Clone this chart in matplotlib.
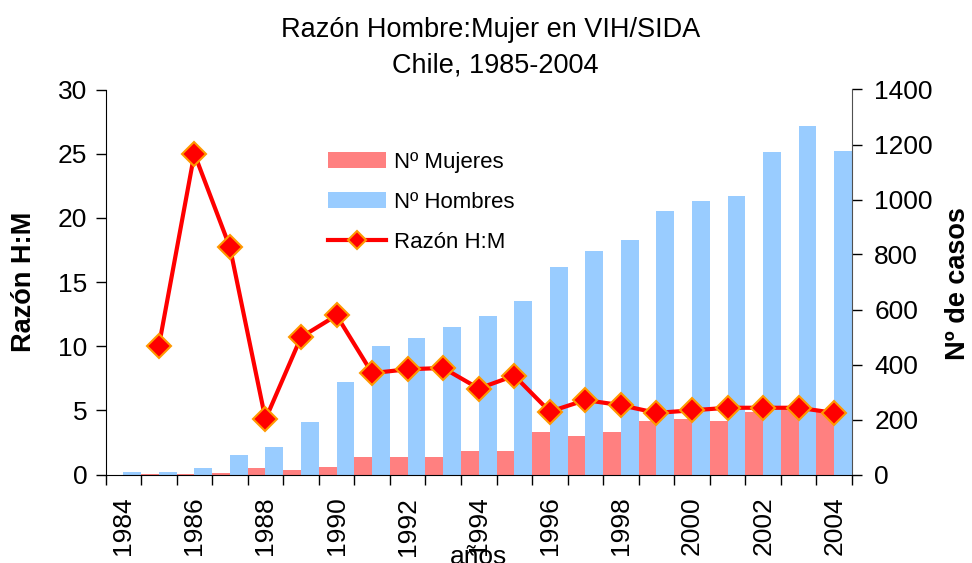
import numpy as np
import matplotlib
matplotlib.use("Agg")
from matplotlib import pyplot as plt
from matplotlib.lines import Line2D
from matplotlib.patches import Patch

plt.rcParams['font.family'] = ['Liberation Sans', 'DejaVu Sans']

years = list(range(1984, 2005))
mujeres = [0, 1, 1, 4, 23, 18, 27, 63, 63, 63, 85, 85, 154, 140, 154, 194, 201, 194, 228, 238, 226]
hombres = [9, 10, 25, 71, 100, 192, 336, 467, 496, 536, 578, 631, 756, 811, 851, 960, 996, 1014, 1171, 1269, 1178]
razon_years = list(range(1985, 2005))
razon = [10.0, 25.0, 17.7, 4.3, 10.7, 12.4, 7.9, 8.2, 8.3, 6.7, 7.7, 4.9, 5.8, 5.4,
         4.8, 5.0, 5.2, 5.2, 5.2, 4.8]
tick_years = list(range(1984, 2005, 2))

c_muj = '#FF8080'
c_hom = '#99CCFF'

fig = plt.figure(figsize=(9.72, 5.63), dpi=100)
ax = fig.add_axes([105.5 / 972, 1 - 474.5 / 563, (852 - 105.5) / 972, (474.5 - 89.5) / 563])

x = np.arange(len(years))
ax.bar(x - 0.25, mujeres, width=0.5, color=c_muj, linewidth=0)
ax.bar(x + 0.25, hombres, width=0.5, color=c_hom, linewidth=0)
ax.set_xlim(-0.5, len(years) - 0.5)
ax.set_ylim(0, 1400)
ax.set_yticks(range(0, 1401, 200))

ax2 = ax.twinx()
xr = np.array([years.index(y) for y in razon_years])
ax2.plot(xr, razon, color='#FF0000', lw=3, marker='D', ms=12,
         mfc='#FF0000', mec='#FF9900', mew=1.5, zorder=5)
ax2.set_ylim(0, 30)
ax2.set_yticks(range(0, 31, 5))

# axes sides: counts on the right, ratio on the left
ax.yaxis.tick_right()
ax2.yaxis.tick_left()
for a in (ax, ax2):
    a.spines['top'].set_visible(False)
ax.spines['left'].set_visible(False)
ax2.spines['right'].set_visible(False)
ax2.spines['bottom'].set_visible(False)
ax.spines['right'].set_color('#505050')

ax.tick_params(axis='y', direction='out', length=7, width=1, labelsize=19, pad=9)
ax2.tick_params(axis='y', direction='out', length=7, width=1, labelsize=19, pad=6)

# x axis: ticks on category boundaries, labels every other year
ax.set_xticks(np.arange(-0.5, len(years)), labels=[''] * (len(years) + 1))
ax.set_xticks([years.index(y) for y in tick_years], labels=[str(y) for y in tick_years], minor=True)
ax.tick_params(axis='x', which='major', direction='out', length=7, width=1)
ax.tick_params(axis='x', which='minor', length=0, labelsize=19, pad=16, labelrotation=90)

fig.text(24 / 972, 1 - 282 / 563, 'Razón H:M', rotation=90, ha='center', va='center',
         fontsize=19.5, fontweight='bold')
fig.text(958 / 972, 1 - 284 / 563, 'Nº de casos', rotation=90, ha='center', va='center',
         fontsize=19.5, fontweight='bold')
fig.text(478 / 972, -1 / 563, 'años', ha='center', va='baseline', fontsize=19)

fig.text(491 / 972, 1 - 37 / 563, 'Razón Hombre:Mujer en VIH/SIDA', ha='center', va='baseline', fontsize=19.5)
fig.text(495 / 972, 1 - 73 / 563, 'Chile, 1985-2004', ha='center', va='baseline', fontsize=19.5)

handles = [Patch(color=c_muj, lw=0), Patch(color=c_hom, lw=0),
           Line2D([], [], color='#FF0000', lw=3, marker='D', ms=9, mfc='#FF0000', mec='#FF9900', mew=1.5)]
ax2.legend(handles, ['Nº Mujeres', 'Nº Hombres', 'Razón H:M'], loc='upper left',
           bbox_to_anchor=(328 / 972, 1 - 152 / 563), bbox_transform=fig.transFigure,
           frameon=False, fontsize=16, handlelength=2.6, handletextpad=0.35,
           labelspacing=0.85, borderpad=0, borderaxespad=0, handleheight=0.75)

fig.savefig('out.png', dpi=100)
